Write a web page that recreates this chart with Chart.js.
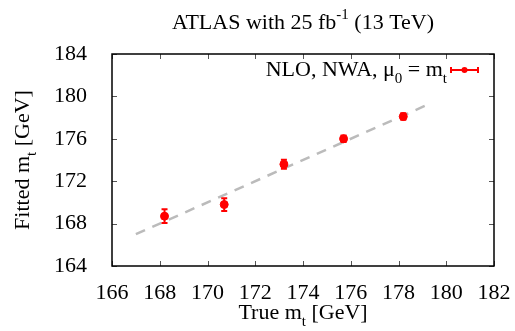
<!DOCTYPE html>
<html>
<head>
<meta charset="utf-8">
<script src="https://cdn.jsdelivr.net/npm/chart.js@4.4.1/dist/chart.umd.min.js"></script>
<style>
  html, body { margin: 0; padding: 0; background: #fff; }
  #wrap { width: 515px; height: 331px; }
</style>
</head>
<body>
<div id="wrap"><canvas id="chart"></canvas></div>
<script>
// values
const trueMass = [168.2, 170.7, 173.2, 175.7, 178.2];
const fittedMass = [168.7, 169.8, 173.6, 176.0, 178.1];
const fittedErr = [0.65, 0.6, 0.42, 0.3, 0.3];
const fitLineX = [167.0, 179.3];
const fitLineY = [167.0, 179.3];
const xTicks = [166, 168, 170, 172, 174, 176, 178, 180, 182];
const yTicks = [164, 168, 172, 176, 180, 184];

const RED = '#ff0000';
const SERIF = '"Liberation Serif", "DejaVu Serif", serif';

// draw text made of parts: [text, 0 normal | -1 sub | 1 sup]
function richWidth(ctx, parts, size) {
  let w = 0;
  parts.forEach(p => {
    ctx.font = (p[1] ? Math.round(size * 0.7) : size) + 'px ' + SERIF;
    w += ctx.measureText(p[0]).width;
  });
  return w;
}
function drawRich(ctx, parts, x, y, size, align) {
  const w = richWidth(ctx, parts, size);
  let cx = align === 'center' ? x - w / 2 : align === 'right' ? x - w : x;
  ctx.textBaseline = 'alphabetic';
  ctx.textAlign = 'left';
  parts.forEach(p => {
    const s = p[1] ? Math.round(size * 0.7) : size;
    ctx.font = s + 'px ' + SERIF;
    const dy = p[1] === -1 ? size * 0.3 : p[1] === 1 ? -size * 0.45 : 0;
    ctx.fillText(p[0], cx, y + dy);
    cx += ctx.measureText(p[0]).width;
  });
}

const framePlugin = {
  id: 'frame',
  afterDatasetsDraw(chart) {
    const ctx = chart.ctx;
    const a = chart.chartArea;
    const xs = chart.scales.x, ys = chart.scales.y;
    ctx.save();
    // error bars
    ctx.strokeStyle = RED;
    ctx.lineWidth = 2;
    trueMass.forEach((m, i) => {
      const px = xs.getPixelForValue(m);
      const lo = ys.getPixelForValue(fittedMass[i] - fittedErr[i]);
      const hi = ys.getPixelForValue(fittedMass[i] + fittedErr[i]);
      ctx.beginPath();
      ctx.moveTo(px, lo); ctx.lineTo(px, hi);
      ctx.moveTo(px - 3, lo); ctx.lineTo(px + 3, lo);
      ctx.moveTo(px - 3, hi); ctx.lineTo(px + 3, hi);
      ctx.stroke();
    });
    // inward ticks on all four sides
    ctx.strokeStyle = '#555';
    ctx.lineWidth = 1;
    ctx.beginPath();
    xTicks.forEach(v => {
      const px = Math.round(xs.getPixelForValue(v)) + 0.5;
      ctx.moveTo(px, a.bottom); ctx.lineTo(px, a.bottom - 5);
      ctx.moveTo(px, a.top); ctx.lineTo(px, a.top + 5);
    });
    yTicks.forEach(v => {
      const py = Math.round(ys.getPixelForValue(v)) + 0.5;
      ctx.moveTo(a.left, py); ctx.lineTo(a.left + 5, py);
      ctx.moveTo(a.right, py); ctx.lineTo(a.right - 5, py);
    });
    ctx.stroke();
    // frame
    ctx.strokeStyle = '#000';
    ctx.lineWidth = 1.5;
    ctx.strokeRect(a.left, a.top, a.right - a.left, a.bottom - a.top);

    // titles
    ctx.fillStyle = '#000';
    const cxm = (a.left + a.right) / 2;
    drawRich(ctx, [['ATLAS with 25 fb', 0], ['-1', 1], [' (13 TeV)', 0]], cxm, 29, 22, 'center');
    drawRich(ctx, [['True m', 0], ['t', -1], [' [GeV]', 0]], cxm, 319, 22, 'center');
    ctx.save();
    ctx.translate(29, (a.top + a.bottom) / 2);
    ctx.rotate(-Math.PI / 2);
    drawRich(ctx, [['Fitted m', 0], ['t', -1], [' [GeV]', 0]], 0, 0, 22, 'center');
    ctx.restore();

    // legend
    const ly = 70;
    drawRich(ctx, [['NLO, NWA, \u03bc', 0], ['0', -1], [' = m', 0], ['t', -1]], 447, 76, 22, 'right');
    ctx.strokeStyle = RED;
    ctx.lineWidth = 2;
    ctx.beginPath();
    ctx.moveTo(451, ly); ctx.lineTo(478, ly);
    ctx.moveTo(451, ly - 3); ctx.lineTo(451, ly + 3);
    ctx.moveTo(478, ly - 3); ctx.lineTo(478, ly + 3);
    ctx.stroke();
    ctx.fillStyle = RED;
    ctx.beginPath();
    ctx.arc(464.5, ly, 3, 0, Math.PI * 2);
    ctx.fill();
    ctx.restore();
  }
};

new Chart(document.getElementById('chart'), {
  type: 'scatter',
  data: {
    datasets: [
      {
        label: 'fit',
        data: fitLineX.map((x, i) => ({ x: x, y: fitLineY[i] })),
        showLine: true,
        borderColor: '#bbbbbb',
        borderWidth: 2.5,
        borderDash: [10, 8],
        pointRadius: 0,
        order: 2
      },
      {
        label: 'NLO, NWA',
        data: trueMass.map((x, i) => ({ x: x, y: fittedMass[i] })),
        pointRadius: 4,
        pointBackgroundColor: RED,
        pointBorderColor: RED,
        order: 1
      }
    ]
  },
  options: {
    responsive: true,
    maintainAspectRatio: false,
    animation: false,
    layout: { padding: { top: 54, right: 21, left: 0, bottom: 0 } },
    plugins: { legend: { display: false }, tooltip: { enabled: false } },
    scales: {
      x: {
        type: 'linear', min: 166, max: 182,
        afterBuildTicks: s => { s.ticks = xTicks.map(v => ({ value: v })); },
        afterFit: s => { s.height = 65; s.paddingLeft = 0; s.paddingRight = 0; },
        grid: { display: false }, border: { display: false },
        ticks: { color: '#000', padding: 6, maxRotation: 0, font: { family: SERIF, size: 22 } }
      },
      y: {
        type: 'linear', min: 164, max: 184,
        afterBuildTicks: s => { s.ticks = yTicks.map(v => ({ value: v })); },
        afterFit: s => { s.width = 112; s.paddingTop = 0; s.paddingBottom = 0; },
        grid: { display: false }, border: { display: false },
        ticks: { color: '#000', padding: 17, font: { family: SERIF, size: 22 } }
      }
    }
  },
  plugins: [framePlugin]
});
</script>
</body>
</html>
